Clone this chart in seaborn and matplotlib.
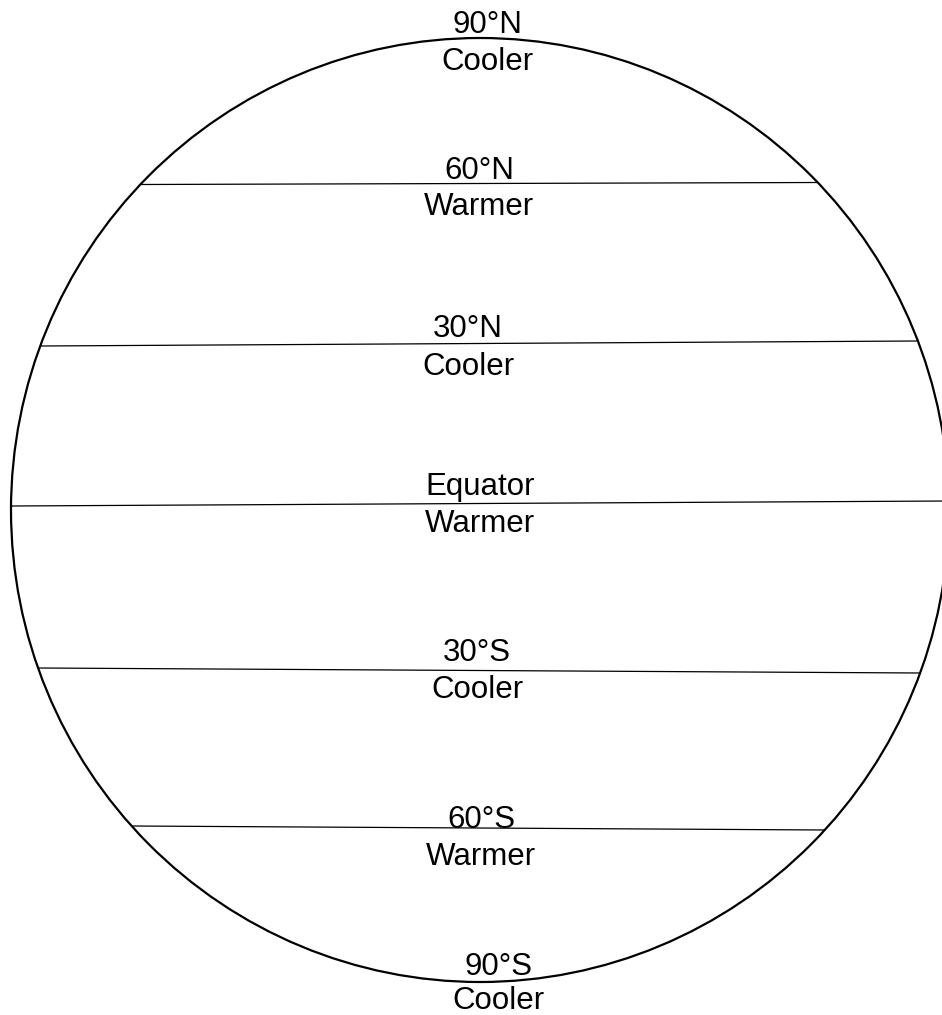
import numpy as np
import pandas as pd
import matplotlib
matplotlib.use("Agg")
import matplotlib.pyplot as plt
from matplotlib.patches import Ellipse
import seaborn as sns

# latitude lines: y position at left and right end (pixel space, y down)
line_names = ["60°N", "30°N", "Equator", "30°S", "60°S"]
line_y_left = [184.5, 346, 506, 668, 826]
line_y_right = [182.5, 341, 501, 673, 830]

# zone labels: (latitude label, temperature label)
label_names = ["90°N", "60°N", "30°N", "Equator", "30°S", "60°S", "90°S"]
label_temps = ["Cooler", "Warmer", "Cooler", "Warmer", "Cooler", "Warmer", "Cooler"]
label_x = [487, 479, 468, 480, 477, 481, 498]
label_base = [33, 179, 337, 495, 661, 828, 975]
temp_base = [70, 215, 375, 532, 698, 865, 1009]

# globe outline
cx, cy = 480, 510
rx, ry = 469, 472

sns.set_style("white")
plt.rcParams["font.family"] = ["Liberation Sans", "DejaVu Sans"]

fig = plt.figure(figsize=(9.42, 10.15), dpi=100)
ax = fig.add_axes([0, 0, 1, 1])

ax.add_patch(Ellipse((cx, cy), 2 * rx, 2 * ry, fill=False,
                     edgecolor="black", lw=1.6, zorder=3))

# segments end on the outline
rows = []
for name, yl, yr in zip(line_names, line_y_left, line_y_right):
    xl = cx - rx * np.sqrt(1 - ((yl - cy) / ry) ** 2)
    xr = cx + rx * np.sqrt(1 - ((yr - cy) / ry) ** 2)
    rows.append({"lat": name, "x": xl, "y": yl})
    rows.append({"lat": name, "x": xr, "y": yr})
lines = pd.DataFrame(rows)

sns.lineplot(data=lines, x="x", y="y", units="lat", estimator=None,
             sort=False, color="black", lw=0.9, ax=ax, zorder=2)
ax.set_xlim(0, 942)
ax.set_ylim(1015, 0)
ax.axis("off")

for name, temp, x, yb, yt in zip(label_names, label_temps, label_x,
                                   label_base, temp_base):
    ax.text(x, yb, name, ha="center", va="baseline", fontsize=22.5, color="black")
    ax.text(x, yt, temp, ha="center", va="baseline", fontsize=22.5, color="black")

plt.savefig("out.png", dpi=100)
plt.close()
print("Saved: out.png")
